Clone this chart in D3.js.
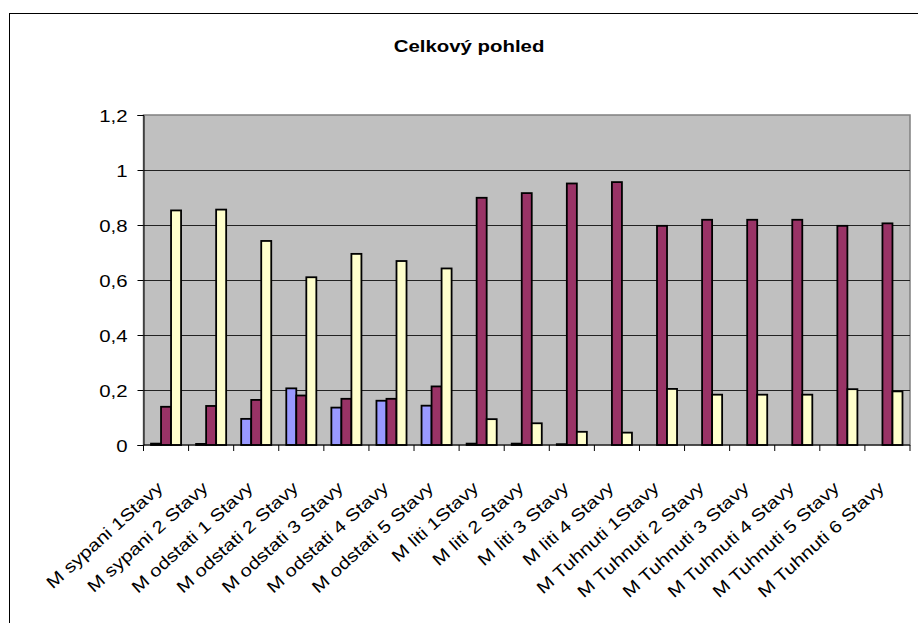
<!DOCTYPE html>
<html>
<head>
<meta charset="utf-8">
<script src="https://cdn.jsdelivr.net/npm/d3@7"></script>
<style>
  html, body { margin: 0; padding: 0; background: #fff; }
  svg { display: block; }
  text { font-family: Arial, "Liberation Sans", Helvetica, sans-serif; fill: #000; }
</style>
</head>
<body>
<svg id="chart" width="918" height="623"></svg>
<script>
// Categories along the x axis
const categories = [
  "M sypani 1Stavy", "M sypani 2 Stavy", "M odstati 1 Stavy", "M odstati 2 Stavy",
  "M odstati 3 Stavy", "M odstati 4 Stavy", "M odstati 5 Stavy", "M liti 1Stavy",
  "M liti 2 Stavy", "M liti 3 Stavy", "M liti 4 Stavy", "M Tuhnuti 1Stavy",
  "M Tuhnuti 2 Stavy", "M Tuhnuti 3 Stavy", "M Tuhnuti 4 Stavy", "M Tuhnuti 5 Stavy",
  "M Tuhnuti 6 Stavy"
];

// Three series per category
const seriesBlue   = [0.005, 0.004, 0.095, 0.206, 0.136, 0.161, 0.143, 0.005, 0.005, 0.003, 0, 0, 0, 0, 0, 0, 0];
const seriesPurple = [0.139, 0.142, 0.164, 0.180, 0.168, 0.168, 0.213, 0.899, 0.916, 0.951, 0.956, 0.797, 0.819, 0.819, 0.819, 0.797, 0.806];
const seriesYellow = [0.853, 0.856, 0.742, 0.610, 0.695, 0.669, 0.642, 0.094, 0.079, 0.048, 0.045, 0.204, 0.183, 0.183, 0.183, 0.203, 0.195];

const seriesNames = ["blue", "purple", "yellow"];
const seriesColors = ["#9999FF", "#993366", "#FFFFCC"];
const yTicks = [0, 0.2, 0.4, 0.6, 0.8, 1, 1.2];
const title = "Celkový pohled";

const svg = d3.select("#chart");
const plot = { left: 143.5, right: 910, top: 115, bottom: 445 };
const sx = 1.2; // wide text glyphs

// Outer chart frame
svg.append("rect")
  .attr("x", 9.5).attr("y", 13.5)
  .attr("width", 1000).attr("height", 1000)
  .attr("fill", "#fff").attr("stroke", "#000").attr("stroke-width", 1);

// Title
svg.append("text")
  .attr("transform", `translate(469,52) scale(${sx},1)`)
  .attr("text-anchor", "middle")
  .style("font-size", "17px").style("font-weight", "bold")
  .text(title);

const x0 = d3.scaleBand().domain(categories).range([plot.left, plot.right]).padding(0);
const x1 = d3.scaleBand().domain(seriesNames)
  .range([x0.bandwidth() / 6, x0.bandwidth() * 5 / 6]).padding(0);
const y = d3.scaleLinear().domain([0, 1.2]).range([plot.bottom, plot.top]);

// Plot area background
svg.append("rect")
  .attr("x", plot.left).attr("y", plot.top)
  .attr("width", plot.right - plot.left).attr("height", plot.bottom - plot.top)
  .attr("fill", "#C0C0C0").attr("stroke", "#808080").attr("stroke-width", 1.5);

// Horizontal gridlines
svg.append("g").selectAll("line")
  .data(yTicks.filter(t => t > 0 && t < 1.2))
  .join("line")
  .attr("x1", plot.left).attr("x2", plot.right)
  .attr("y1", d => Math.round(y(d)) + 0.5).attr("y2", d => Math.round(y(d)) + 0.5)
  .attr("stroke", "#222").attr("stroke-width", 1);

// Bars
const values = [seriesBlue, seriesPurple, seriesYellow];
const groups = svg.append("g").selectAll("g")
  .data(categories)
  .join("g")
  .attr("transform", d => `translate(${x0(d)},0)`);

groups.selectAll("rect")
  .data((d, i) => seriesNames.map((s, k) => ({ s, k, v: values[k][i] })).filter(e => e.v > 0))
  .join("rect")
  .attr("x", d => x1(d.s))
  .attr("width", x1.bandwidth())
  .attr("y", d => y(d.v))
  .attr("height", d => y(0) - y(d.v))
  .attr("fill", d => seriesColors[d.k])
  .attr("stroke", "#000").attr("stroke-width", 1.8);

// Y axis
const yAxis = svg.append("g")
  .attr("transform", `translate(${plot.left},0)`)
  .call(d3.axisLeft(y).tickValues(yTicks).tickSize(6).tickPadding(0)
    .tickFormat(d => String(d).replace(".", ",")));
yAxis.select(".domain").attr("stroke", "#000");
yAxis.selectAll(".tick line").attr("stroke", "#000");
yAxis.selectAll(".tick text")
  .attr("x", null).attr("dy", null)
  .attr("text-anchor", "end")
  .attr("transform", `translate(-16,6) scale(${sx},1)`)
  .style("font-size", "17px");

// X axis with ticks at category boundaries
const xAxisG = svg.append("g").attr("transform", `translate(0,${plot.bottom})`);
xAxisG.append("line")
  .attr("x1", plot.left).attr("x2", plot.right)
  .attr("y1", 0).attr("y2", 0)
  .attr("stroke", "#000");
const boundaries = categories.map(c => x0(c)).concat([plot.right]);
xAxisG.selectAll("line.tick")
  .data(boundaries)
  .join("line").attr("class", "tick")
  .attr("x1", d => d).attr("x2", d => d)
  .attr("y1", 0).attr("y2", 6)
  .attr("stroke", "#000");

// Rotated category labels
xAxisG.selectAll("text")
  .data(categories)
  .join("text")
  .attr("transform", d => `translate(${x0(d) + x0.bandwidth() / 2 - 6},40) rotate(-42) scale(${sx},1)`)
  .attr("text-anchor", "end")
  .attr("dy", "0.35em")
  .style("font-size", "17px")
  .text(d => d);
</script>
</body>
</html>
